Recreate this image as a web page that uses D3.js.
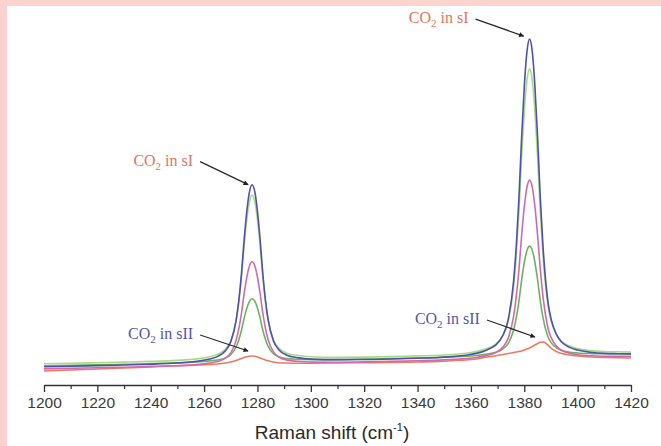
<!DOCTYPE html>
<html>
<head>
<meta charset="utf-8">
<script src="https://cdn.jsdelivr.net/npm/d3@7"></script>
<style>
  html, body { margin: 0; padding: 0; background: #ffffff; }
  svg { display: block; }
</style>
</head>
<body>
<svg id="chart" width="661" height="446"></svg>
<script>
// Raman shift sampling points (cm^-1)
const ramanShift = [
  1200,1210,1220,1230,1240,1248,1254,1258,1262,1265,
  1268,1270,1272,1273,1274,1275,1276,1277,1278,1279,
  1280,1281,1282,1283,1284,1286,1288,1291,1295,1300,
  1310,1320,1330,1340,1348,1354,1358,1362,1366,1369,
  1372,1374,1376,1377,1378,1379,1380,1381,1382,1383,
  1384,1385,1386,1387,1388,1389,1390,1392,1394,1397,
  1400,1405,1410,1415,1420
];

// Intensities (counts) of the five spectra
const spectrumBlue = [
  182,187,194,200,208,217,228,239,259,284,
  343,433,647,844,1111,1450,1735,1932,2003,1933,
  1737,1453,1115,849,653,441,353,298,274,259,
  254,255,260,268,275,286,298,316,351,393,
  497,657,1039,1390,1867,2472,2981,3332,3459,3333,
  2983,2475,1872,1395,1046,808,666,508,429,376,
  349,327,316,313,311
];
const spectrumLightGreen = [
  212,217,223,229,236,244,254,264,282,305,
  360,443,642,824,1072,1386,1651,1832,1899,1833,
  1653,1390,1076,830,648,451,370,318,297,283,
  277,279,284,291,297,307,318,334,365,403,
  496,640,984,1300,1729,2273,2731,3046,3161,3047,
  2733,2276,1733,1305,990,777,648,506,436,389,
  364,344,335,332,330
];
const spectrumMagenta = [
  161,166,173,178,186,192,199,207,220,234,
  269,322,446,561,715,912,1077,1191,1233,1192,
  1080,915,720,566,453,331,280,249,237,229,
  228,231,237,242,249,257,264,275,296,320,
  379,470,686,884,1152,1493,1780,1977,2049,1978,
  1782,1496,1157,889,693,558,479,390,347,317,
  303,292,287,286,286
];
const spectrumGreen = [
  191,196,202,207,214,220,226,232,241,250,
  271,304,380,451,545,666,767,837,863,838,
  770,669,550,456,387,313,282,264,257,254,
  254,259,264,270,276,282,287,295,309,324,
  361,417,550,672,837,1047,1223,1345,1389,1346,
  1225,1050,842,677,557,475,426,372,346,328,
  320,314,312,313,314
];
const spectrumRed = [
  140,150,160,170,180,190,195,200,205,210,
  220,230,245,255,265,275,283,288,290,287,
  280,270,260,250,242,230,223,220,218,218,
  220,223,226,230,235,245,250,260,280,290,
  305,315,325,330,335,340,350,360,370,385,
  400,415,427,430,420,395,370,335,315,300,
  290,280,275,272,270
];

const xMajorTicks = [1200,1220,1240,1260,1280,1300,1320,1340,1360,1380,1400,1420];
const xMinorTicks = [1210,1230,1250,1270,1290,1310,1330,1350,1370,1390,1410];
const xTitle = "Raman shift (cm";
const xTitleSup = "-1";

// Peak annotations: label text, anchor point on the spectrum
const labelsSI = [
  { text: "CO", sub: "2", rest: " in sI", shift: 1278, counts: 2003, tipDx: -4, tipDy: 0, dx: -48, dy: -23 },
  { text: "CO", sub: "2", rest: " in sI", shift: 1382, counts: 3459, tipDx: -6, tipDy: -3, dx: -48, dy: -17 }
];
const labelsSII = [
  { text: "CO", sub: "2", rest: " in sII", shift: 1278, counts: 290, tipDx: -4, tipDy: -5, dx: -48, dy: -16 },
  { text: "CO", sub: "2", rest: " in sII", shift: 1387, counts: 430, tipDx: -8, tipDy: -5, dx: -48, dy: -17 }
];

const svg = d3.select("#chart");
const W = 661, H = 446;

const x = d3.scaleLinear().domain([1200, 1420]).range([44, 631]);
const y = d3.scaleLinear().domain([0, 3600]).range([385, 25]);

svg.append("rect").attr("width", W).attr("height", H).attr("fill", "#ffffff");

// Spectra
const series = [
  { values: spectrumRed,        color: "#ec7a62" },
  { values: spectrumGreen,      color: "#6cb45c" },
  { values: spectrumMagenta,    color: "#d468ae" },
  { values: spectrumLightGreen, color: "#a9da84" },
  { values: spectrumBlue,       color: "#4d52ac" }
];

const line = d3.line()
  .x((d, i) => x(ramanShift[i]))
  .y(d => y(d))
  .curve(d3.curveMonotoneX);

svg.append("g")
  .selectAll("path")
  .data(series)
  .join("path")
  .attr("d", s => line(s.values))
  .attr("fill", "none")
  .attr("stroke", s => s.color)
  .attr("stroke-width", 1.6)
  .attr("stroke-linejoin", "round");

// X axis with major and minor ticks
const axisY = 385;
const gx = svg.append("g").attr("transform", `translate(0,${axisY})`);
gx.call(d3.axisBottom(x).tickValues(xMajorTicks).tickFormat(d3.format("d")).tickSize(7).tickPadding(5).tickSizeOuter(0));
gx.call(g => g.select(".domain").attr("stroke", "#333").attr("stroke-width", 1.3));
gx.selectAll(".tick line").attr("stroke", "#333").attr("stroke-width", 1.3);
gx.selectAll(".tick text")
  .attr("font-family", "Liberation Sans, Arial, sans-serif")
  .attr("font-size", 15.5)
  .attr("fill", "#3a3a3a");

const gMinor = svg.append("g").attr("transform", `translate(0,${axisY})`);
gMinor.call(d3.axisBottom(x).tickValues(xMinorTicks).tickFormat("").tickSize(4).tickSizeOuter(0));
gMinor.select(".domain").remove();
gMinor.selectAll(".tick line").attr("stroke", "#333").attr("stroke-width", 1.2);

// Axis title
const title = svg.append("text")
  .attr("x", 332).attr("y", 439)
  .attr("text-anchor", "middle")
  .attr("font-family", "Liberation Sans, Arial, sans-serif")
  .attr("font-size", 19)
  .attr("fill", "#2a2a2a");
title.append("tspan").text(xTitle);
title.append("tspan").attr("font-size", 11).attr("dy", -8).text(xTitleSup);
title.append("tspan").attr("dy", 8).text(")");

// Arrow marker
const defs = svg.append("defs");
defs.append("marker")
  .attr("id", "arrow")
  .attr("viewBox", "0 0 10 10")
  .attr("refX", 9).attr("refY", 5)
  .attr("markerWidth", 7).attr("markerHeight", 5)
  .attr("markerUnits", "userSpaceOnUse")
  .attr("orient", "auto")
  .append("path")
  .attr("d", "M0,0 L10,5 L0,10 Z")
  .attr("fill", "#1e1e1e");

function annotate(list, color) {
  list.forEach(a => {
    const tx = x(a.shift) + a.tipDx, ty = y(a.counts) + a.tipDy;
    const sx = tx + a.dx, sy = ty + a.dy;
    svg.append("line")
      .attr("x1", sx).attr("y1", sy).attr("x2", tx).attr("y2", ty)
      .attr("stroke", "#2a2a2a").attr("stroke-width", 1.3)
      .attr("marker-end", "url(#arrow)");
    const t = svg.append("text")
      .attr("x", sx - 7).attr("y", sy + 4)
      .attr("text-anchor", "end")
      .attr("font-family", "Liberation Serif, Times New Roman, serif")
      .attr("font-size", 16)
      .attr("fill", color);
    t.append("tspan").text(a.text);
    t.append("tspan").attr("font-size", 11).attr("dy", 4).text(a.sub);
    t.append("tspan").attr("dy", -4).text(a.rest);
  });
}
annotate(labelsSI, "#e2745c");
annotate(labelsSII, "#5257a8");

// Pink frame along the top and left edges
svg.append("rect").attr("x", 0).attr("y", 0).attr("width", W).attr("height", 6).attr("fill", "#fcd5cf");
svg.append("rect").attr("x", 0).attr("y", 0).attr("width", 7).attr("height", H).attr("fill", "#fcd2d0");
</script>
</body>
</html>
